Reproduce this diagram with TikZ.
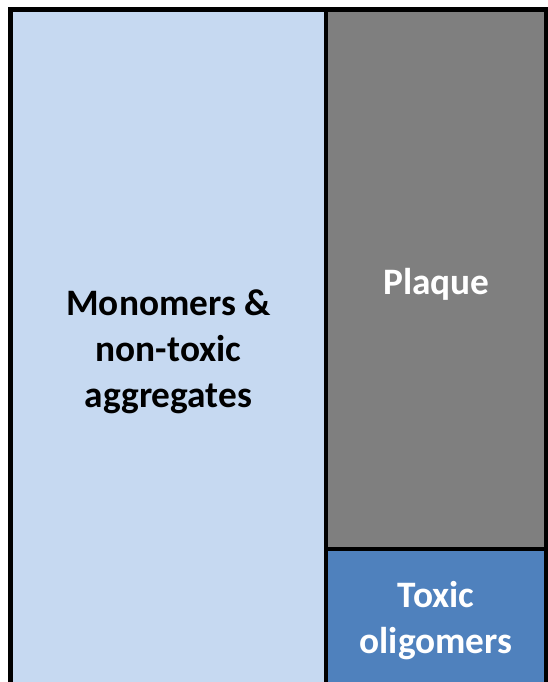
\documentclass[tikz,border=0pt]{standalone}
\usepackage{fontspec}
\setmainfont{Carlito}
\definecolor{monofill}{HTML}{C6D9F1}
\definecolor{plaquefill}{HTML}{7F7F7F}
\definecolor{toxicfill}{HTML}{4F81BD}
\begin{document}
\begin{tikzpicture}[x=0.75pt,y=-0.75pt,
    boxline/.style={draw=black, line width=3.4pt},
    lbl/.style={font=\bfseries\fontsize{28}{34.5}\selectfont, align=center}]
    \useasboundingbox (0,0) rectangle (548,682);
    \clip (0,0) rectangle (548,682);

    \coordinate (m1) at (10.5,9.5);
    \coordinate (m2) at (326,720);
    \coordinate (p1) at (326,9.5);
    \coordinate (p2) at (546.5,549);
    \coordinate (t1) at (326,549);
    \coordinate (t2) at (546,720);

    \draw[boxline, fill=monofill] (m1) rectangle (m2);
    \draw[boxline, fill=plaquefill] (p1) rectangle (p2);
    \draw[boxline, fill=toxicfill] (t1) rectangle (t2);

    \node[lbl] (mono) at (168.5,352) {Monomers \&\\non-toxic\\aggregates};
    \node[lbl, text=white] (plaque) at (436.5,284) {Plaque};
    \node[lbl, text=white] (toxic) at (436,621) {Toxic\\oligomers};

\end{tikzpicture}
\end{document}
